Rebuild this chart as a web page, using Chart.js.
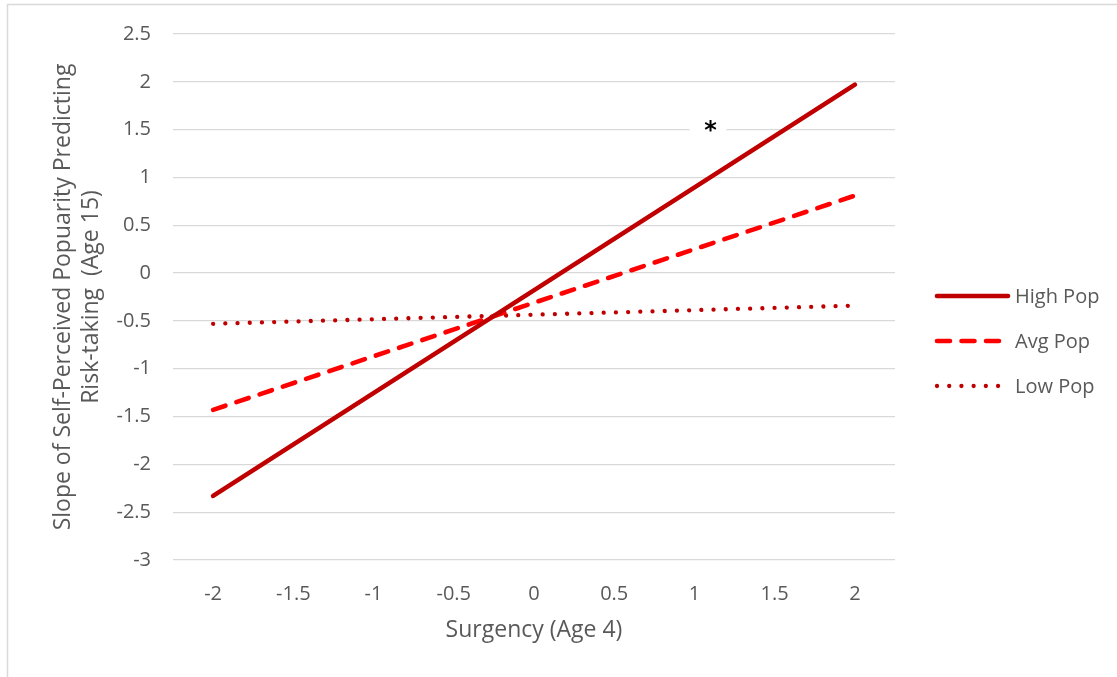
<!DOCTYPE html>
<html><head><meta charset="utf-8">
<script src="https://cdn.jsdelivr.net/npm/chart.js@4"></script>
<style>html,body{margin:0;padding:0;background:#fff;overflow:hidden}</style>
</head><body>
<canvas id="c" width="1117" height="677"></canvas>
<script>
// ---- data ----
const xTicks = [-2, -1.5, -1, -0.5, 0, 0.5, 1, 1.5, 2];
const surgency = [-2, 2];
const highPop = [-2.33, 1.97];
const avgPop = [-1.43, 0.81];
const lowPop = [-0.53, -0.34];
const seriesNames = ['High Pop', 'Avg Pop', 'Low Pop'];
const noteText = '*';
const notePos = [1.1, 1.54];
const xTitle = 'Surgency (Age 4)';
const yTitle = ['Slope of Self-Perceived Popuarity Predicting', 'Risk-taking  (Age 15)'];

const FONT = '"Open Sans", sans-serif';
const TXT = '#595959';
Chart.defaults.font.family = FONT;
Chart.defaults.font.size = 20;
Chart.defaults.color = TXT;

const pts = arr => surgency.map((x, i) => ({x: x, y: arr[i]}));

const frame = {
  id: 'frame',
  beforeDraw(chart) {
    const c = chart.ctx;
    c.save();
    c.fillStyle = '#fff';
    c.fillRect(0, 0, chart.width, chart.height);
    c.strokeStyle = '#d9d9d9';
    c.lineWidth = 1.5;
    c.beginPath();
    c.moveTo(7.5, chart.height);
    c.lineTo(7.5, 4.5);
    c.lineTo(chart.width, 4.5);
    c.stroke();
    c.restore();
  }
};

const note = {
  id: 'note',
  beforeDatasetsDraw(chart) {
    const c = chart.ctx;
    const px = chart.scales.x.getPixelForValue(notePos[0]);
    const py = chart.scales.y.getPixelForValue(notePos[1]);
    c.save();
    c.fillStyle = '#fff';
    c.fillRect(px - 21, py - 14, 37, 30);
    c.fillStyle = '#000';
    c.font = 'bold 24px "DejaVu Sans"';
    c.textAlign = 'center';
    c.textBaseline = 'alphabetic';
    c.fillText(noteText, px, py + 12.5);
    c.restore();
  }
};

const sideLegend = {
  id: 'sideLegend',
  afterDraw(chart) {
    const c = chart.ctx;
    const x1 = 937, x2 = 1008, tx = 1015, y0 = 296, dy = 45;
    chart.data.datasets.forEach((ds, i) => {
      const y = y0 + i * dy;
      c.save();
      c.strokeStyle = ds.borderColor;
      c.lineWidth = ds.borderWidth;
      c.lineCap = ds.borderCapStyle || 'butt';
      c.setLineDash(ds.borderDash || []);
      c.beginPath();
      c.moveTo(x1, y);
      c.lineTo(x2, y);
      c.stroke();
      c.setLineDash([]);
      c.fillStyle = TXT;
      c.font = '20px ' + FONT;
      c.textAlign = 'left';
      c.textBaseline = 'middle';
      c.fillText(ds.label, tx, y + 1);
      c.restore();
    });
  }
};

new Chart(document.getElementById('c'), {
  type: 'line',
  data: {
    datasets: [
      {label: seriesNames[0], data: pts(highPop), borderColor: '#C00000', borderWidth: 4.6,
       borderCapStyle: 'round', pointRadius: 0, tension: 0, fill: false},
      {label: seriesNames[1], data: pts(avgPop), borderColor: '#FF0000', borderWidth: 4.6,
       borderCapStyle: 'round', borderDash: [13, 11.5], pointRadius: 0, tension: 0, fill: false},
      {label: seriesNames[2], data: pts(lowPop), borderColor: '#C00000', borderWidth: 4.3,
       borderCapStyle: 'round', borderDash: [0.01, 12.2], pointRadius: 0, tension: 0, fill: false}
    ]
  },
  options: {
    responsive: false,
    animation: false,
    devicePixelRatio: 1,
    layout: {padding: {top: 33, right: 222, left: 0, bottom: 0}},
    plugins: {legend: {display: false}, tooltip: {enabled: false}},
    scales: {
      x: {
        type: 'linear', min: -2.25, max: 2.25,
        afterBuildTicks: s => { s.ticks = xTicks.map(v => ({value: v})); },
        afterFit: s => { s.height = 117; },
        ticks: {color: TXT, font: {size: 20}, padding: 14, maxRotation: 0,
                callback: v => String(v)},
        grid: {display: false},
        border: {display: false},
        title: {display: true, text: xTitle, color: TXT, font: {size: 23, lineHeight: 1.1},
                padding: {top: 0, bottom: 34}}
      },
      y: {
        min: -3, max: 2.5,
        afterFit: s => { s.width = 173; },
        ticks: {stepSize: 0.5, color: TXT, font: {size: 20}, padding: 22,
                callback: v => String(v)},
        grid: {color: '#d9d9d9', lineWidth: 1.3, drawTicks: false},
        border: {display: false},
        title: {display: true, text: yTitle, color: TXT, font: {size: 23, lineHeight: 1.22},
                padding: {top: 49, bottom: 0}}
      }
    }
  },
  plugins: [frame, note, sideLegend]
});
</script>
</body></html>
